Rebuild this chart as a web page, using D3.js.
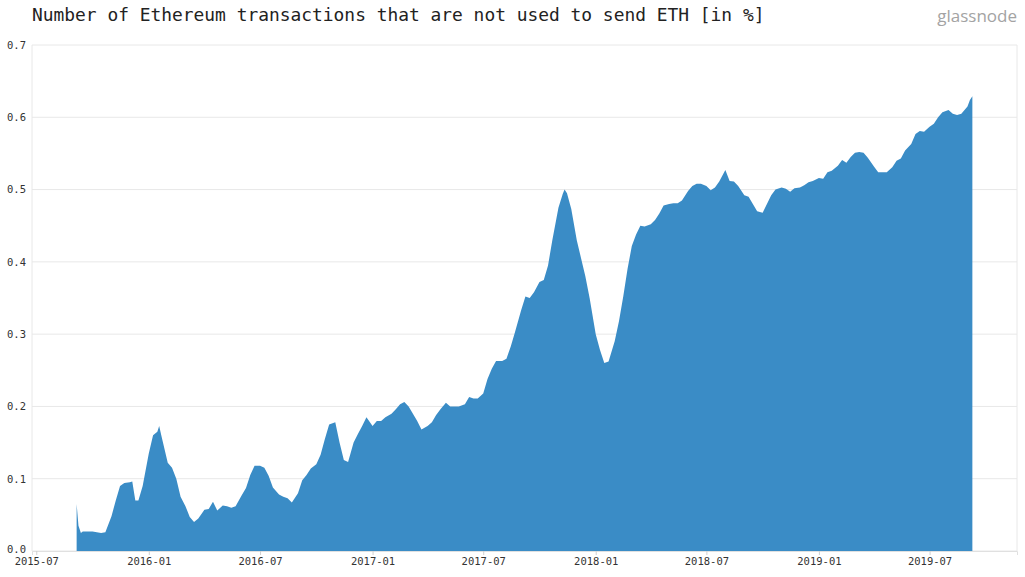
<!DOCTYPE html>
<html>
<head>
<meta charset="utf-8">
<script src="https://cdn.jsdelivr.net/npm/d3@7"></script>
<style>
  body { margin: 0; background: #fff; }
  svg { display: block; }
</style>
</head>
<body>
<div id="chart-area"></div>
<script>
// share of eth txs that don't move ETH
var dates = [
  "2015-09-05","2015-09-08","2015-09-12","2015-09-15","2015-09-22",
  "2015-10-01","2015-10-08","2015-10-15","2015-10-22",
  "2015-11-01","2015-11-08","2015-11-15","2015-11-22",
  "2015-12-01","2015-12-05","2015-12-10","2015-12-15","2015-12-22",
  "2016-01-01","2016-01-08","2016-01-15","2016-01-18","2016-01-22",
  "2016-02-01","2016-02-08","2016-02-15","2016-02-22",
  "2016-03-01","2016-03-08","2016-03-15","2016-03-22",
  "2016-04-01","2016-04-08","2016-04-15","2016-04-22",
  "2016-05-01","2016-05-08","2016-05-15","2016-05-22",
  "2016-06-01","2016-06-08","2016-06-15","2016-06-22",
  "2016-07-01","2016-07-08","2016-07-15","2016-07-22",
  "2016-08-01","2016-08-08","2016-08-15","2016-08-22",
  "2016-09-01","2016-09-08","2016-09-15","2016-09-22",
  "2016-10-01","2016-10-08","2016-10-15","2016-10-22",
  "2016-11-01","2016-11-08","2016-11-15","2016-11-22",
  "2016-12-01","2016-12-08","2016-12-15","2016-12-22",
  "2017-01-01","2017-01-08","2017-01-15","2017-01-22",
  "2017-02-01","2017-02-08","2017-02-15","2017-02-22",
  "2017-03-01","2017-03-08","2017-03-15","2017-03-22",
  "2017-04-01","2017-04-08","2017-04-15","2017-04-22",
  "2017-05-01","2017-05-08","2017-05-15","2017-05-22",
  "2017-06-01","2017-06-08","2017-06-15","2017-06-22",
  "2017-07-01","2017-07-08","2017-07-15","2017-07-22",
  "2017-08-01","2017-08-08","2017-08-15","2017-08-22",
  "2017-09-01","2017-09-08","2017-09-15","2017-09-22",
  "2017-10-01","2017-10-08","2017-10-15","2017-10-22",
  "2017-11-01","2017-11-08","2017-11-11","2017-11-15","2017-11-22",
  "2017-12-01","2017-12-08","2017-12-15","2017-12-22",
  "2018-01-01","2018-01-08","2018-01-15","2018-01-22",
  "2018-02-01","2018-02-08","2018-02-15","2018-02-22",
  "2018-03-01","2018-03-08","2018-03-15","2018-03-22",
  "2018-04-01","2018-04-08","2018-04-15","2018-04-22",
  "2018-05-01","2018-05-08","2018-05-15","2018-05-22",
  "2018-06-01","2018-06-08","2018-06-15","2018-06-22",
  "2018-07-01","2018-07-08","2018-07-15","2018-07-22",
  "2018-08-01","2018-08-08","2018-08-15","2018-08-22",
  "2018-09-01","2018-09-08","2018-09-15","2018-09-22",
  "2018-10-01","2018-10-08","2018-10-15","2018-10-22",
  "2018-11-01","2018-11-08","2018-11-15","2018-11-22",
  "2018-12-01","2018-12-08","2018-12-15","2018-12-22",
  "2019-01-01","2019-01-08","2019-01-15","2019-01-22",
  "2019-02-01","2019-02-08","2019-02-15","2019-02-22",
  "2019-03-01","2019-03-08","2019-03-15","2019-03-22",
  "2019-04-01","2019-04-08","2019-04-15","2019-04-22",
  "2019-05-01","2019-05-08","2019-05-15","2019-05-22",
  "2019-06-01","2019-06-08","2019-06-15","2019-06-22",
  "2019-07-01","2019-07-08","2019-07-15","2019-07-22",
  "2019-08-01","2019-08-08","2019-08-15","2019-08-22",
  "2019-09-01","2019-09-05","2019-09-09"
];

var values = [
  0.065, 0.035, 0.025, 0.027, 0.027,
  0.027, 0.026, 0.025, 0.026,
  0.048, 0.070, 0.090, 0.094,
  0.095, 0.096, 0.070, 0.070, 0.090,
  0.135, 0.160, 0.165, 0.173, 0.158,
  0.122, 0.115, 0.100, 0.075,
  0.062, 0.047, 0.040, 0.045,
  0.057, 0.058, 0.068, 0.056,
  0.063, 0.062, 0.060, 0.062,
  0.077, 0.087, 0.105, 0.118,
  0.118, 0.115, 0.104, 0.088,
  0.078, 0.075, 0.073, 0.067,
  0.080, 0.098, 0.105, 0.114,
  0.120, 0.133, 0.155, 0.175,
  0.178, 0.150, 0.126, 0.123,
  0.150, 0.162, 0.173, 0.185,
  0.173, 0.180, 0.180, 0.185,
  0.190, 0.196, 0.203, 0.206,
  0.200, 0.190, 0.180, 0.168,
  0.173, 0.178, 0.188, 0.196,
  0.205, 0.200, 0.200, 0.200,
  0.203, 0.213, 0.211, 0.211,
  0.218, 0.238, 0.252, 0.263,
  0.263, 0.266, 0.283, 0.303,
  0.333, 0.352, 0.350, 0.358,
  0.372, 0.375, 0.395, 0.430,
  0.475, 0.494, 0.500, 0.495, 0.473,
  0.430, 0.405, 0.380, 0.350,
  0.300, 0.278, 0.260, 0.262,
  0.290, 0.318, 0.352, 0.390,
  0.422, 0.438, 0.450, 0.449,
  0.452, 0.458, 0.467, 0.478,
  0.480, 0.481, 0.481, 0.485,
  0.498, 0.505, 0.508, 0.508,
  0.505, 0.499, 0.503, 0.511,
  0.527, 0.512, 0.511, 0.505,
  0.492, 0.490, 0.480, 0.470,
  0.468, 0.480, 0.492, 0.500,
  0.503, 0.501, 0.497, 0.502,
  0.503, 0.506, 0.510, 0.512,
  0.516, 0.515, 0.524, 0.526,
  0.533, 0.541, 0.537, 0.545,
  0.551, 0.552, 0.551, 0.544,
  0.532, 0.524, 0.524, 0.524,
  0.531, 0.540, 0.543, 0.554,
  0.563, 0.577, 0.581, 0.580,
  0.587, 0.591, 0.600, 0.607,
  0.610, 0.605, 0.603, 0.605,
  0.615, 0.624, 0.629
];

var yTicks = [0, 0.1, 0.2, 0.3, 0.4, 0.5, 0.6, 0.7];
var xTicks = ["2015-07-01","2016-01-01","2016-07-01","2017-01-01","2017-07-01","2018-01-01","2018-07-01","2019-01-01","2019-07-01"];

const widthinput = 1025;
const heightinput = 577;

var margin = { top: 45, right: 8, bottom: 26, left: 32 };
var width = widthinput - margin.left - margin.right,
	height = heightinput - margin.top - margin.bottom;

var parse = d3.timeParse("%Y-%m-%d");
var data = dates.map(function(d, i) { return { date: parse(d), value: values[i] }; });

var svg = d3.select("#chart-area")
	.append("svg")
		.attr("width", widthinput)
		.attr("height", heightinput);

var g = svg.append("g")
	.attr("transform", "translate(" + margin.left + ", " + margin.top + ")");

var x = d3.scaleTime()
	.domain([parse("2015-06-24"), parse("2019-11-21")])
	.range([0, width]);

var y = d3.scaleLinear()
	.domain([0, 0.7])
	.range([height, 0]);

// grid
g.selectAll(".grid")
	.data(yTicks)
	.enter().append("line")
		.attr("class", "grid")
		.attr("x1", 0)
		.attr("x2", width)
		.attr("y1", function(d) { return y(d); })
		.attr("y2", function(d) { return y(d); })
		.attr("stroke", "#e8e8e8")
		.attr("stroke-width", 1);

g.append("line")
	.attr("x1", 0).attr("x2", 0)
	.attr("y1", 0).attr("y2", height)
	.attr("stroke", "#e8e8e8");
g.append("line")
	.attr("x1", width).attr("x2", width)
	.attr("y1", 0).attr("y2", height)
	.attr("stroke", "#e8e8e8");

var area = d3.area()
	.x(function(d) { return x(d.date); })
	.y0(y(0))
	.y1(function(d) { return y(d.value); });

g.append("path")
	.attr("fill", "#3a8cc6")
	.attr("d", area(data));

// axes
var xAxis = g.append("g")
	.attr("class", "x axis")
	.attr("transform", "translate(0, " + height + ")")
	.call(d3.axisBottom(x)
		.tickValues(xTicks.map(parse))
		.tickFormat(d3.timeFormat("%Y-%m"))
		.tickSize(4)
		.tickPadding(3));

var yAxis = g.append("g")
	.attr("class", "y axis")
	.call(d3.axisLeft(y)
		.tickValues(yTicks)
		.tickFormat(d3.format(".1f"))
		.tickSize(0)
		.tickPadding(6));

svg.selectAll(".axis .domain").attr("stroke", "#e0e0e0");
svg.selectAll(".axis .tick line").attr("stroke", "#d0d0d0");
svg.selectAll(".axis text")
	.attr("font-family", "'DejaVu Sans Mono', monospace")
	.attr("font-size", "10.5px")
	.attr("fill", "#333");
yAxis.select(".domain").remove();
// lift the 0.0 label a touch so it clears the first date label
yAxis.selectAll(".tick text").filter(function(d) { return d === 0; }).attr("dy", "0.1em");

svg.append("text")
	.attr("x", 32)
	.attr("y", 21)
	.attr("font-family", "'DejaVu Sans Mono', monospace")
	.attr("font-size", "17.9px")
	.attr("fill", "#222")
	.text("Number of Ethereum transactions that are not used to send ETH [in %]");

svg.append("text")
	.attr("x", 1017)
	.attr("y", 22)
	.attr("text-anchor", "end")
	.attr("font-family", "'Open Sans', sans-serif")
	.attr("font-size", "17px")
	.attr("fill", "#a3a3a3")
	.text("glassnode");
</script>
</body>
</html>
